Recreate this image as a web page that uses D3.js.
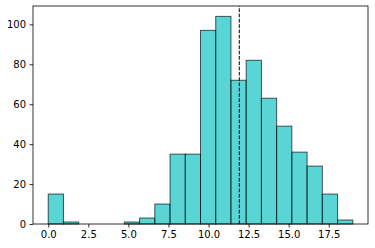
<!DOCTYPE html>
<html>
<head>
<meta charset="utf-8">
<script src="https://cdn.jsdelivr.net/npm/d3@7"></script>
<style>
  body { margin: 0; background: #fff; }
  text { font-family: "DejaVu Sans", sans-serif; font-size: 10px; fill: #000; }
</style>
</head>
<body>
<div id="chart"></div>
<script>
// histogram: 20 bins between 0 and 19
var binStart = 0
var binWidth = 0.95
var counts = [15, 1, 0, 0, 0, 1, 3, 10, 35, 35, 97, 104, 72, 82, 63, 49, 36, 29, 15, 2]
var meanLine = 11.92
var xTicks = [0, 2.5, 5, 7.5, 10, 12.5, 15, 17.5]
var yTicks = [0, 20, 40, 60, 80, 100]

var width = 375, height = 248
var margin = {left: 33, right: 7, top: 6, bottom: 24}

var bins = counts.map((c, i) => ({
    x0: binStart + i * binWidth,
    x1: binStart + (i + 1) * binWidth,
    n: c
}))

var xmin = binStart, xmax = binStart + counts.length * binWidth
var xpad = (xmax - xmin) * 0.05
var x = d3.scaleLinear()
    .domain([xmin - xpad, xmax + xpad])
    .range([margin.left, width - margin.right])
var y = d3.scaleLinear()
    .domain([0, d3.max(counts) * 1.05])
    .range([height - margin.bottom, margin.top])

var svg = d3.select('#chart')
    .append('svg')
    .attr('width', width)
    .attr('height', height)

svg.append('g')
    .selectAll('rect')
    .data(bins)
    .enter().append('rect')
    .attr('x', d => x(d.x0))
    .attr('y', d => y(d.n))
    .attr('width', d => x(d.x1) - x(d.x0))
    .attr('height', d => y(0) - y(d.n))
    .attr('fill', '#00bfbf')
    .attr('fill-opacity', 0.65)
    .attr('stroke', '#000')
    .attr('stroke-opacity', 0.65)
    .attr('stroke-width', 1)

svg.append('line')
    .attr('x1', x(meanLine))
    .attr('x2', x(meanLine))
    .attr('y1', height - margin.bottom)
    .attr('y2', margin.top)
    .attr('stroke', '#000')
    .attr('stroke-width', 1)
    .attr('stroke-dasharray', '3.7,1.6')

var xAxis = svg.append('g')
    .attr('transform', 'translate(0,' + (height - margin.bottom) + ')')
    .call(d3.axisBottom(x).tickValues(xTicks).tickFormat(d3.format('.1f')).tickSize(3.5).tickPadding(3.5))
var yAxis = svg.append('g')
    .attr('transform', 'translate(' + margin.left + ',0)')
    .call(d3.axisLeft(y).tickValues(yTicks).tickSize(3.5).tickPadding(3.5))

;[xAxis, yAxis].forEach(a => {
    a.select('.domain').remove()
    a.selectAll('line').attr('stroke', '#000').attr('stroke-width', 0.8)
    a.selectAll('text').attr('font-family', 'DejaVu Sans').attr('font-size', 10).attr('fill', '#000')
})

// frame
svg.append('rect')
    .attr('x', margin.left)
    .attr('y', margin.top)
    .attr('width', width - margin.left - margin.right)
    .attr('height', height - margin.top - margin.bottom)
    .attr('fill', 'none')
    .attr('stroke', '#000')
    .attr('stroke-width', 0.8)
</script>
</body>
</html>
